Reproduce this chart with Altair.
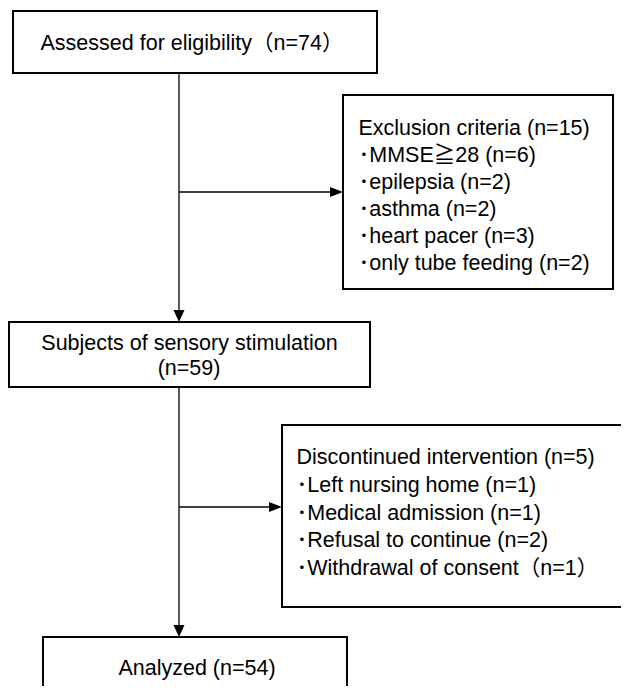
import altair as alt
import pandas as pd

# ---- texts (values) ----
assessed_label = ["Assessed for eligibility（n=74）"]
exclusion_lines = [
    "Exclusion criteria (n=15)",
    "･MMSE≧28 (n=6)",
    "･epilepsia (n=2)",
    "･asthma (n=2)",
    "･heart pacer (n=3)",
    "･only tube feeding (n=2)",
]
subjects_lines = ["Subjects of sensory stimulation", "(n=59)"]
discontinued_lines = [
    "Discontinued intervention (n=5)",
    "･Left nursing home (n=1)",
    "･Medical admission (n=1)",
    "･Refusal to continue (n=2)",
    "･Withdrawal of consent（n=1）",
]
analyzed_label = ["Analyzed (n=54)"]

# ---- layout (diagram coordinates, y grows downward) ----
box_x0 = [13, 343, 9, 282, 43]
box_y0 = [11, 95, 322, 425, 637]
box_x1 = [377, 613, 370, 660, 347]
box_y1 = [73, 289, 387, 607, 720]

seg_x0 = [179, 179, 179, 179]
seg_y0 = [72, 192, 384, 507]
seg_x1 = [179, 333, 179, 272]
seg_y1 = [312, 192, 627, 507]

head_x = [179, 343, 179, 282]
head_y = [322, 192, 637, 507]
head_dir = ["down", "right", "down", "right"]

boxes = pd.DataFrame({"x": box_x0, "y": box_y0, "x2": box_x1, "y2": box_y1})
segs = pd.DataFrame({"x": seg_x0, "y": seg_y0, "x2": seg_x1, "y2": seg_y1})
heads = pd.DataFrame({"x": head_x, "y": head_y, "dir": head_dir})

# centered texts
c_text = assessed_label + subjects_lines + analyzed_label
c_x = [192, 189.5, 189, 197]
c_y = [50, 350, 375, 675]
centered = pd.DataFrame({"text": c_text, "x": c_x, "y": c_y})

# left-aligned list texts
l_text = exclusion_lines + discontinued_lines
l_x = [358.5] * len(exclusion_lines) + [296.5] * len(discontinued_lines)
l_y = [135, 162, 189, 216, 243, 270] + [464, 492, 520, 547, 575]
left = pd.DataFrame({"text": l_text, "x": l_x, "y": l_y})

W, H = 613, 678
xs = alt.Scale(domain=[8, 8 + W], nice=False, zero=False)
ys = alt.Scale(domain=[8 + H, 8], nice=False, zero=False)

FONT = "Liberation Sans, Arial, Noto Sans CJK JP, sans-serif"
FS = 21.5

box_layer = alt.Chart(boxes).mark_rect(
    fill="white", stroke="black", strokeWidth=2, clip=True
).encode(
    x=alt.X("x:Q", scale=xs, axis=None),
    x2="x2:Q",
    y=alt.Y("y:Q", scale=ys, axis=None),
    y2="y2:Q",
)

seg_layer = alt.Chart(segs).mark_rule(color="black", strokeWidth=1.3).encode(
    x=alt.X("x:Q", scale=xs, axis=None),
    x2="x2:Q",
    y=alt.Y("y:Q", scale=ys, axis=None),
    y2="y2:Q",
)

down_layer = alt.Chart(heads).transform_filter(alt.datum.dir == "down").mark_point(
    shape="M0,0L-1,-2.2L1,-2.2Z", filled=True, size=121, color="black", opacity=1
).encode(
    x=alt.X("x:Q", scale=xs, axis=None),
    y=alt.Y("y:Q", scale=ys, axis=None),
)

right_layer = alt.Chart(heads).transform_filter(alt.datum.dir == "right").mark_point(
    shape="M0,0L-2.6,-1L-2.6,1Z", filled=True, size=100, color="black", opacity=1
).encode(
    x=alt.X("x:Q", scale=xs, axis=None),
    y=alt.Y("y:Q", scale=ys, axis=None),
)

ctext_layer = alt.Chart(centered).mark_text(
    font=FONT, fontSize=FS, color="black", align="center", baseline="alphabetic"
).encode(
    x=alt.X("x:Q", scale=xs, axis=None),
    y=alt.Y("y:Q", scale=ys, axis=None),
    text="text:N",
)

ltext_layer = alt.Chart(left).mark_text(
    font=FONT, fontSize=FS, color="black", align="left", baseline="alphabetic"
).encode(
    x=alt.X("x:Q", scale=xs, axis=None),
    y=alt.Y("y:Q", scale=ys, axis=None),
    text="text:N",
)

chart = alt.layer(
    seg_layer, box_layer, down_layer, right_layer, ctext_layer, ltext_layer
).properties(
    width=W, height=H, padding=0,
    autosize=alt.AutoSizeParams(type="none"),
    background="white",
).configure_view(stroke=None)

chart.save("out.html", embed_options={"renderer": "svg", "actions": False})
